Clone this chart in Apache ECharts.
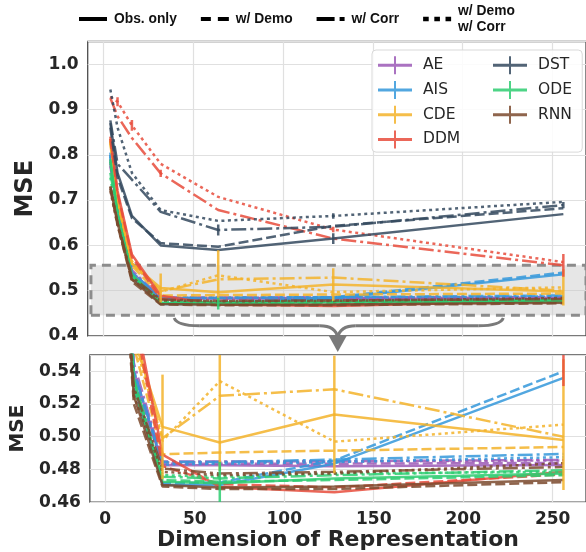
<!DOCTYPE html>
<html><head><meta charset="utf-8">
<script src="https://cdn.jsdelivr.net/npm/echarts@6/dist/echarts.min.js"></script>
<style>html,body{margin:0;padding:0;background:#fff}#c{width:586px;height:552px}</style>
</head><body><div id="c"></div>
<script>
// ---------------- data ----------------
const dims = [4, 8, 16, 32, 64, 128, 256];
const models = ['AE', 'AIS', 'CDE', 'DDM', 'DST', 'ODE', 'RNN'];
const variants = ['Obs. only', 'w/ Demo', 'w/ Corr', 'w/ Demo\nw/ Corr'];

const AE_obs      = [0.780, 0.680, 0.540, 0.4825, 0.4825, 0.4820, 0.4827];
const AE_demo     = [0.775, 0.675, 0.535, 0.4835, 0.4835, 0.4835, 0.4840];
const AE_corr     = [0.790, 0.685, 0.545, 0.4848, 0.4848, 0.4850, 0.4858];
const AE_demoCorr = [0.785, 0.680, 0.540, 0.4842, 0.4845, 0.4848, 0.4855];

const AIS_obs      = [0.800, 0.680, 0.535, 0.4705, 0.4705, 0.4835, 0.5360];
const AIS_demo     = [0.795, 0.675, 0.530, 0.4715, 0.4720, 0.4855, 0.5400];
const AIS_corr     = [0.805, 0.690, 0.540, 0.4845, 0.4845, 0.4860, 0.4895];
const AIS_demoCorr = [0.800, 0.685, 0.540, 0.4830, 0.4835, 0.4845, 0.4875];

const CDE_obs      = [0.830, 0.700, 0.560, 0.5060, 0.4965, 0.5136, 0.4980];
const CDE_demo     = [0.825, 0.695, 0.555, 0.4893, 0.4903, 0.4915, 0.4937];
const CDE_corr     = [0.835, 0.705, 0.565, 0.4990, 0.5250, 0.5290, 0.5000];
const CDE_demoCorr = [0.830, 0.700, 0.560, 0.4975, 0.5340, 0.4970, 0.5074];

const DDM_obs      = [0.840, 0.720, 0.580, 0.4890, 0.4693, 0.4660, 0.4785];
const DDM_demo     = [0.835, 0.715, 0.575, 0.4820, 0.4710, 0.4690, 0.4770];
const DDM_corr     = [0.925, 0.885, 0.837, 0.7590, 0.6780, 0.6150, 0.5560];
const DDM_demoCorr = [0.928, 0.917, 0.865, 0.7800, 0.7070, 0.6350, 0.5630];

const DST_obs      = [0.870, 0.760, 0.665, 0.6000, 0.5900, 0.6150, 0.6690];
const DST_demo     = [0.860, 0.750, 0.660, 0.6050, 0.5970, 0.6430, 0.6820];
const DST_corr     = [0.876, 0.780, 0.745, 0.6740, 0.6340, 0.6410, 0.6890];
const DST_demoCorr = [0.944, 0.860, 0.760, 0.6780, 0.6540, 0.6650, 0.6960];

const ODE_obs      = [0.790, 0.670, 0.535, 0.4725, 0.4715, 0.4745, 0.4775];
const ODE_demo     = [0.785, 0.665, 0.530, 0.4735, 0.4725, 0.4735, 0.4765];
const ODE_corr     = [0.760, 0.670, 0.535, 0.4755, 0.4745, 0.4765, 0.4795];
const ODE_demoCorr = [0.750, 0.660, 0.530, 0.4765, 0.4755, 0.4775, 0.4785];

const RNN_obs      = [0.730, 0.650, 0.525, 0.4705, 0.4690, 0.4695, 0.4735];
const RNN_demo     = [0.725, 0.645, 0.520, 0.4695, 0.4680, 0.4680, 0.4722];
const RNN_corr     = [0.730, 0.650, 0.530, 0.4805, 0.4775, 0.4785, 0.4815];
const RNN_demoCorr = [0.720, 0.645, 0.525, 0.4785, 0.4765, 0.4775, 0.4838];

// error bars: [model, variant index, dimension, half-width]
const errorBars = [
  ['CDE', 0, 32, 0.032], ['CDE', 3, 64, 0.055], ['CDE', 0, 128, 0.036], ['CDE', 3, 256, 0.040],
  ['DDM', 2, 256, 0.025], ['DDM', 3, 8, 0.010], ['DDM', 3, 16, 0.012], ['DDM', 2, 32, 0.008],
  ['DDM', 3, 128, 0.006], ['DST', 2, 64, 0.012], ['DST', 0, 128, 0.012], ['DST', 2, 256, 0.007],
  ['DST', 3, 128, 0.006], ['ODE', 0, 64, 0.013]
];

// zoom band and brace annotation (data units of upper panel)
const bandY = [0.446, 0.556];
const bandX = [-6.8, 280];
const braceX = [39.5, 130.5, 222.6];
const braceY = [0.4397, 0.4225, 0.3647];

const xTicks = [0, 50, 100, 150, 200, 250];

// ---------------- styles ----------------
const mse = {
  AE: [AE_obs, AE_demo, AE_corr, AE_demoCorr],
  AIS: [AIS_obs, AIS_demo, AIS_corr, AIS_demoCorr],
  CDE: [CDE_obs, CDE_demo, CDE_corr, CDE_demoCorr],
  DDM: [DDM_obs, DDM_demo, DDM_corr, DDM_demoCorr],
  DST: [DST_obs, DST_demo, DST_corr, DST_demoCorr],
  ODE: [ODE_obs, ODE_demo, ODE_corr, ODE_demoCorr],
  RNN: [RNN_obs, RNN_demo, RNN_corr, RNN_demoCorr]
};
const modelColors = ['#9b59b6', '#3498db', '#f3b32a', '#e74c3c', '#34495e', '#2ecc71', '#7b4a2e'];
const lineDash = ['solid', [10, 4], [15, 4, 3, 4], [3, 3.5]];
const legendIcons = [
  'path://M0,0H28V4H0Z',
  'path://M0,0H10V4H0Z M17,0H28V4H17Z',
  'path://M0,0H18V4H0Z M23,0H28V4H23Z',
  'path://M0,0H5V4H0Z M10,0H15V4H10Z M20,0H25V4H20Z'
];
const LW = 2.5, OP = 0.85;

const series = [];
// zoom band (under the lines)
series.push({
  type: 'line', xAxisIndex: 0, yAxisIndex: 0, data: [], silent: true, z: 1,
  markArea: {
    silent: true,
    itemStyle: { color: 'rgba(200,200,200,0.45)', borderColor: '#8c8c8c', borderWidth: 3, borderType: [9, 6], borderRadius: 6 },
    data: [[{ coord: [bandX[0], bandY[0]] }, { coord: [bandX[1], bandY[1]] }]]
  }
});
[0, 1].forEach(g => {
  models.forEach((m, mi) => {
    mse[m].forEach((arr, vi) => {
      series.push({
        type: 'line', name: m, xAxisIndex: g, yAxisIndex: g,
        data: dims.map((d, i) => [d, arr[i]]),
        symbol: 'none', silent: true, z: 3,
        lineStyle: { width: LW, type: lineDash[vi], color: modelColors[mi], opacity: OP },
        itemStyle: { color: modelColors[mi], opacity: OP }
      });
    });
  });
  series.push({
    type: 'custom', xAxisIndex: g, yAxisIndex: g, clip: true, silent: true, z: 4,
    data: errorBars.map(([m, v, x, e]) => {
      const val = mse[m][v][dims.indexOf(x)];
      return [x, val - e, val + e, models.indexOf(m)];
    }),
    renderItem: (params, api) => {
      const lo = api.coord([api.value(0), api.value(1)]);
      const hi = api.coord([api.value(0), api.value(2)]);
      return { type: 'line', shape: { x1: lo[0], y1: lo[1], x2: hi[0], y2: hi[1] },
        style: { stroke: modelColors[api.value(3)], lineWidth: 2.5, opacity: OP } };
    }
  });
});
variants.forEach((v) => {
  series.push({ type: 'line', name: v, xAxisIndex: 0, yAxisIndex: 0, data: [], symbol: 'none',
    lineStyle: { color: '#000', width: 4 }, itemStyle: { color: '#000' } });
});

const tickFont = { fontFamily: 'DejaVu Sans', fontWeight: 'bold', fontSize: 17, color: '#262626' };
const gridLine = { show: true, lineStyle: { color: '#e0e0e0', width: 1.2 } };
const modelLegendBase = {
  orient: 'vertical', itemGap: 6.7, itemWidth: 34, itemHeight: 18, selectedMode: false,
  icon: 'path://M0,7.5H34V10.5H0Z M16,0H18V18H16Z',
  itemStyle: { opacity: 0.85 },
  textStyle: { fontFamily: 'DejaVu Sans', fontSize: 15.5, color: '#262626', padding: [0, 0, 0, 6] }
};

const option = {
  animation: false,
  backgroundColor: '#fff',
  grid: [
    { left: 87.7, right: -4.4, top: 41.5, bottom: 216, show: true, borderColor: '#4d4d4d', borderWidth: 1.3, backgroundColor: 'transparent' },
    { left: 87.7, right: -4.4, top: 355, bottom: 49.3, show: true, borderColor: '#4d4d4d', borderWidth: 1.3, backgroundColor: 'transparent' }
  ],
  xAxis: [0, 1].map(g => ({
    type: 'value', gridIndex: g, min: -8.6, max: 268.6,
    axisLine: { show: false },
    axisTick: { show: false, customValues: xTicks },
    axisLabel: g === 1 ? Object.assign({ margin: 9, customValues: xTicks }, tickFont) : { show: false },
    splitLine: gridLine,
    name: g === 1 ? 'Dimension of Representation' : '',
    nameLocation: 'middle', nameGap: 25,
    nameTextStyle: { fontFamily: 'DejaVu Sans', fontWeight: 'bold', fontSize: 22, color: '#262626' }
  })),
  yAxis: [
    { type: 'value', gridIndex: 0, min: 0.4, max: 1.05, interval: 0.1,
      axisLine: { show: false }, axisTick: { show: false }, splitLine: gridLine,
      axisLabel: Object.assign({ margin: 9, showMaxLabel: false, formatter: v => v.toFixed(1) }, tickFont),
      name: 'MSE', nameLocation: 'middle', nameGap: 43,
      nameTextStyle: { fontFamily: 'DejaVu Sans', fontWeight: 'bold', fontSize: 24, color: '#262626' } },
    { type: 'value', gridIndex: 1, min: 0.46, max: 0.55, interval: 0.02,
      axisLine: { show: false }, axisTick: { show: false }, splitLine: gridLine,
      axisLabel: Object.assign({ margin: 9, showMaxLabel: false, formatter: v => v.toFixed(2) }, tickFont),
      name: 'MSE', nameLocation: 'middle', nameGap: 52,
      nameTextStyle: { fontFamily: 'DejaVu Sans', fontWeight: 'bold', fontSize: 20, color: '#262626' } }
  ],
  legend: [
    { data: variants.map((v, i) => ({ name: v, icon: legendIcons[i] })),
      left: 79, top: 3, padding: 0, itemGap: 24, itemWidth: 28, itemHeight: 14,
      selectedMode: false,
      textStyle: { fontFamily: 'Liberation Sans', fontWeight: 'bold', fontSize: 13.8, color: '#111', lineHeight: 16, padding: [0, 0, 0, 2] } },
    Object.assign({}, modelLegendBase, {
      data: models.slice(0, 4), left: 372, top: 50,
      backgroundColor: 'rgba(255,255,255,0.85)', borderColor: '#d9d9d9', borderWidth: 1, borderRadius: 4,
      padding: [6.3, 122, 3.7, 6] }),
    Object.assign({}, modelLegendBase, {
      data: models.slice(4), left: 493, top: 56.3, padding: 0 })
  ],
  series: series
};

const chart = echarts.init(document.getElementById('c'), null, { renderer: 'canvas' });
chart.setOption(option);

// curly brace + arrow pointing to the zoomed panel
const P = (x, y) => chart.convertToPixel({ gridIndex: 0 }, [x, y]);
const L = P(braceX[0], braceY[0]), C = P(braceX[1], braceY[1]), R = P(braceX[2], braceY[0]), T = P(braceX[1], braceY[2]);
const braceStyle = { stroke: '#7a7a7a', lineWidth: 3, fill: null };
chart.setOption({
  graphic: [
    { type: 'bezierCurve', silent: true, shape: { x1: L[0], y1: L[1], cpx1: L[0] + 3, cpy1: C[1], x2: L[0] + 25, y2: C[1] }, style: braceStyle },
    { type: 'line', silent: true, shape: { x1: L[0] + 25, y1: C[1], x2: C[0] - 18, y2: C[1] }, style: braceStyle },
    { type: 'bezierCurve', silent: true, shape: { x1: C[0] - 18, y1: C[1], cpx1: C[0] - 2, cpy1: C[1], x2: C[0], y2: C[1] + 12 }, style: braceStyle },
    { type: 'bezierCurve', silent: true, shape: { x1: R[0], y1: R[1], cpx1: R[0] - 3, cpy1: C[1], x2: R[0] - 25, y2: C[1] }, style: braceStyle },
    { type: 'line', silent: true, shape: { x1: R[0] - 25, y1: C[1], x2: C[0] + 18, y2: C[1] }, style: braceStyle },
    { type: 'bezierCurve', silent: true, shape: { x1: C[0] + 18, y1: C[1], cpx1: C[0] + 2, cpy1: C[1], x2: C[0], y2: C[1] + 12 }, style: braceStyle },
    { type: 'polygon', silent: true, shape: { points: [[C[0] - 9, C[1] + 10], [C[0] + 9, C[1] + 10], [T[0], T[1]]] }, style: { fill: '#7a7a7a' } }
  ]
});
</script>
</body></html>
